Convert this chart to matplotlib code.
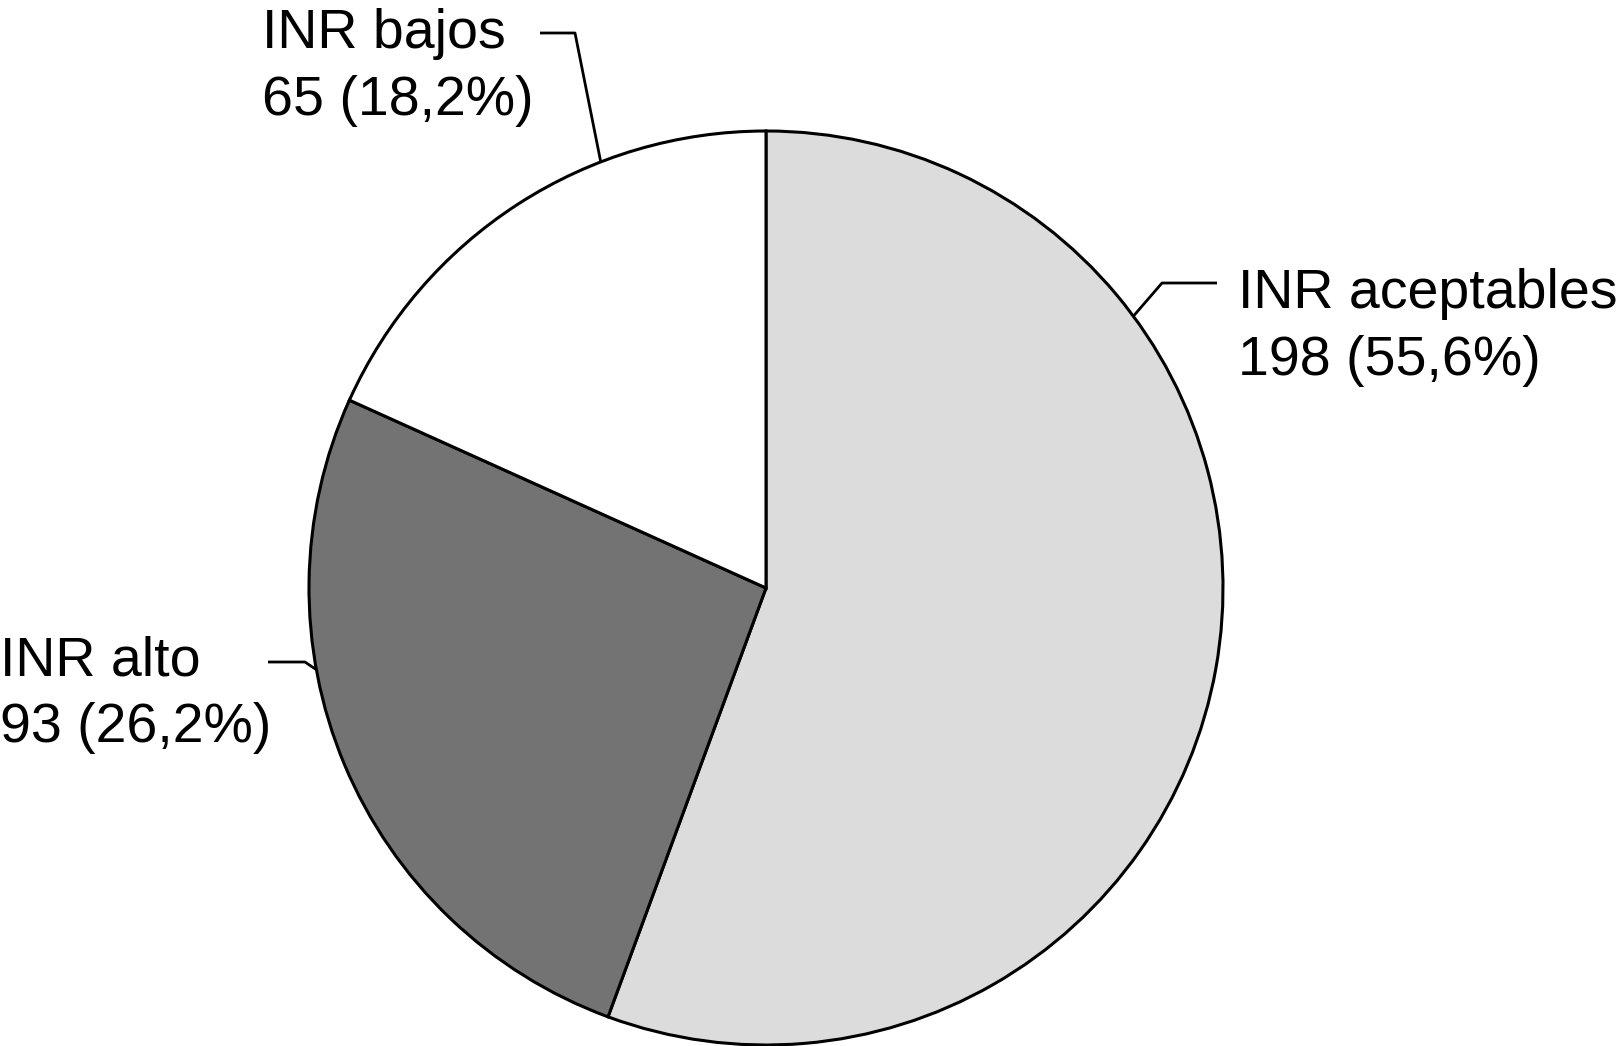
import numpy as np
import matplotlib.pyplot as plt

plt.rcParams["font.family"] = ["Liberation Sans", "DejaVu Sans"]

# data
categories = ["INR aceptables", "INR alto", "INR bajos"]
counts = [198, 93, 65]
count_labels = ["198 (55,6%)", "93 (26,2%)", "65 (18,2%)"]
colors = ["#dcdcdc", "#737373", "#ffffff"]

W, H = 1618, 1046
fig = plt.figure(figsize=(W / 100, H / 100), dpi=100)
ax = fig.add_axes([0, 0, 1, 1])

cx, cy, r = 766, H - 588, 457
ax.pie(
    counts,
    colors=colors,
    startangle=90,
    counterclock=False,
    center=(cx, cy),
    radius=r,
    wedgeprops=dict(edgecolor="black", linewidth=2.2),
)
ax.set_xlim(0, W)
ax.set_ylim(0, H)
ax.set_aspect("equal")
ax.axis("off")

# label layout (image pixel coords, y from top)
text_x = [1238, 0, 262]
base_y = [308, 675, 48]
line_gap = 67
attach_deg = [36.5, 190.3, 111.2]
elbow = [(1217, 1162, 283), (268, 305, 662), (540, 575, 33)]

for i, name in enumerate(categories):
    ax.text(text_x[i], H - base_y[i], name, fontsize=40,
            ha="left", va="baseline")
    ax.text(text_x[i], H - base_y[i] - line_gap, count_labels[i], fontsize=40,
            ha="left", va="baseline")
    x0, x1, ly = elbow[i]
    a = np.deg2rad(attach_deg[i])
    px, py = cx + r * np.cos(a), cy + r * np.sin(a)
    ax.plot([x0, x1, px], [H - ly, H - ly, py], color="black",
            linewidth=2.0, solid_capstyle="butt", clip_on=False)

fig.savefig("out.png", dpi=100)
